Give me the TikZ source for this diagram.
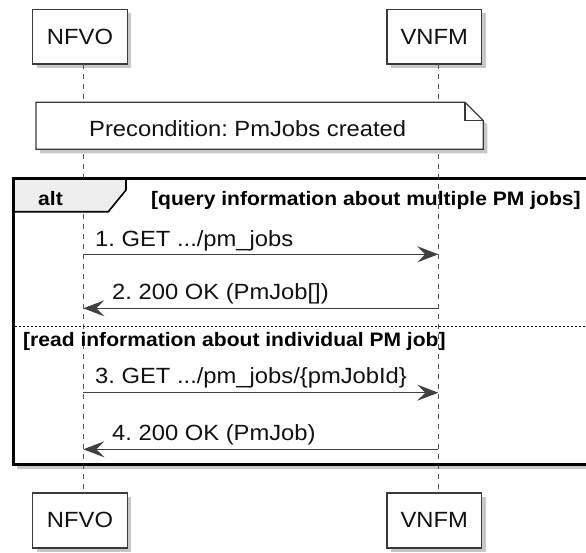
\documentclass[tikz,border=0pt]{standalone}
\usepackage{fontspec}
\setmainfont{Liberation Sans}[FakeStretch=1.08]
\usetikzlibrary{shadows,arrows.meta}
\frenchspacing
\definecolor{boxline}{HTML}{3A3A3A}
\definecolor{lifegray}{HTML}{555555}
\definecolor{msggray}{HTML}{404040}
\definecolor{tabfill}{HTML}{EEEEEE}
\definecolor{txt}{HTML}{111111}
\tikzset{
  shad/.style={drop shadow={shadow xshift=4pt, shadow yshift=-4pt, fill=black, opacity=0.22}},
  participant/.style={draw=boxline, line width=1.5pt, fill=white, minimum width=94.6pt,
    minimum height=54.7pt, inner sep=0pt, text=txt, font=\fontsize{22}{26}\selectfont, shad},
  lifeline/.style={draw=lifegray, line width=1pt, dash pattern=on 5pt off 5pt},
  msg/.style={draw=msggray, line width=1.2pt, -{Stealth[length=21pt,width=16pt,inset=8pt]}},
  msglabel/.style={anchor=base west, inner sep=0pt, text=txt, font=\fontsize{22}{26}\selectfont\frenchspacing},
  grouplabel/.style={anchor=base west, inner sep=0pt, text=black, font=\fontsize{19.5}{23}\selectfont\bfseries},
}
\begin{document}
\begin{tikzpicture}[x=1pt,y=-1pt]
\clip (0,0) rectangle (586,552);
\fill[white] (0,0) rectangle (586,552);

% alt frame background with shadow
\path[fill=white, shad] (13.3,178.3) rectangle (610,464.5);

% participants
\node[participant] (nfvoT) at (80,36.7) {NFVO};
\node[participant] (vnfmT) at (434.2,36.7) {VNFM};
\node[participant] (nfvoB) at (80,520.4) {NFVO};
\node[participant] (vnfmB) at (434.2,520.4) {VNFM};

% lifeline coordinates
\coordinate (nt) at (83.3,64.2);
\coordinate (nb) at (83.3,492.9);
\coordinate (vt) at (438.3,64.2);
\coordinate (vb) at (438.3,492.9);
\draw[lifeline] (nt) -- (nb);
\draw[lifeline] (vt) -- (vb);

% frame border
\draw[black, line width=2.6pt] (13.3,178.3) rectangle (610,464.5);
% tab
\draw[black, line width=1.6pt, fill=tabfill]
  (13.3,178.3) -- (126,178.3) -- (126,190) -- (108.3,211.7) -- (13.3,211.7) -- cycle;
\draw[black, line width=2.6pt] (13.3,178.3) -- (610,178.3);
\draw[black, line width=2.6pt] (13.3,178.3) -- (13.3,464.5);
\node[grouplabel] (altlbl) at (38,205) {alt};
\node[grouplabel] (g1) at (151,205) {[query information about multiple PM jobs]};
% separator
\draw[black, line width=1pt, dash pattern=on 2pt off 2pt] (14.6,326.7) -- (586,326.7);
\node[grouplabel] (g2) at (23,346.7) {[read information about individual PM job]};

% note
\path[fill=white, shad] (36,102.3) -- (465,102.3) -- (483.3,120.6) -- (483.3,149.3) -- (36,149.3) -- cycle;
\draw[boxline, line width=1.3pt] (36,102.3) -- (465,102.3) -- (483.3,120.6) -- (483.3,149.3) -- (36,149.3) -- cycle;
\draw[boxline, line width=1.3pt] (465,102.3) -- (465,120.6) -- (483.3,120.6);
\node[msglabel] (note) at (89,136.2) {Precondition: PmJobs created};

% messages
\coordinate (a1s) at (83.3,254.3);
\coordinate (a1e) at (438.3,254.3);
\coordinate (a2s) at (438.3,308.3);
\coordinate (a2e) at (83.3,308.3);
\coordinate (a3s) at (83.3,392.7);
\coordinate (a3e) at (438.3,392.7);
\coordinate (a4s) at (438.3,449.3);
\coordinate (a4e) at (83.3,449.3);
\draw[msg] (a1s) -- (a1e);
\draw[msg] (a2s) -- (a2e);
\draw[msg] (a3s) -- (a3e);
\draw[msg] (a4s) -- (a4e);
\node[msglabel] (m1) at (95,246) {1. GET .../pm\_jobs};
\node[msglabel] (m2) at (112,299.3) {2. 200 OK (PmJob[])};
\node[msglabel] (m3) at (95,383.3) {3. GET .../pm\_jobs/\{pmJobId\}};
\node[msglabel] (m4) at (112,440.3) {4. 200 OK (PmJob)};
\end{tikzpicture}
\end{document}
